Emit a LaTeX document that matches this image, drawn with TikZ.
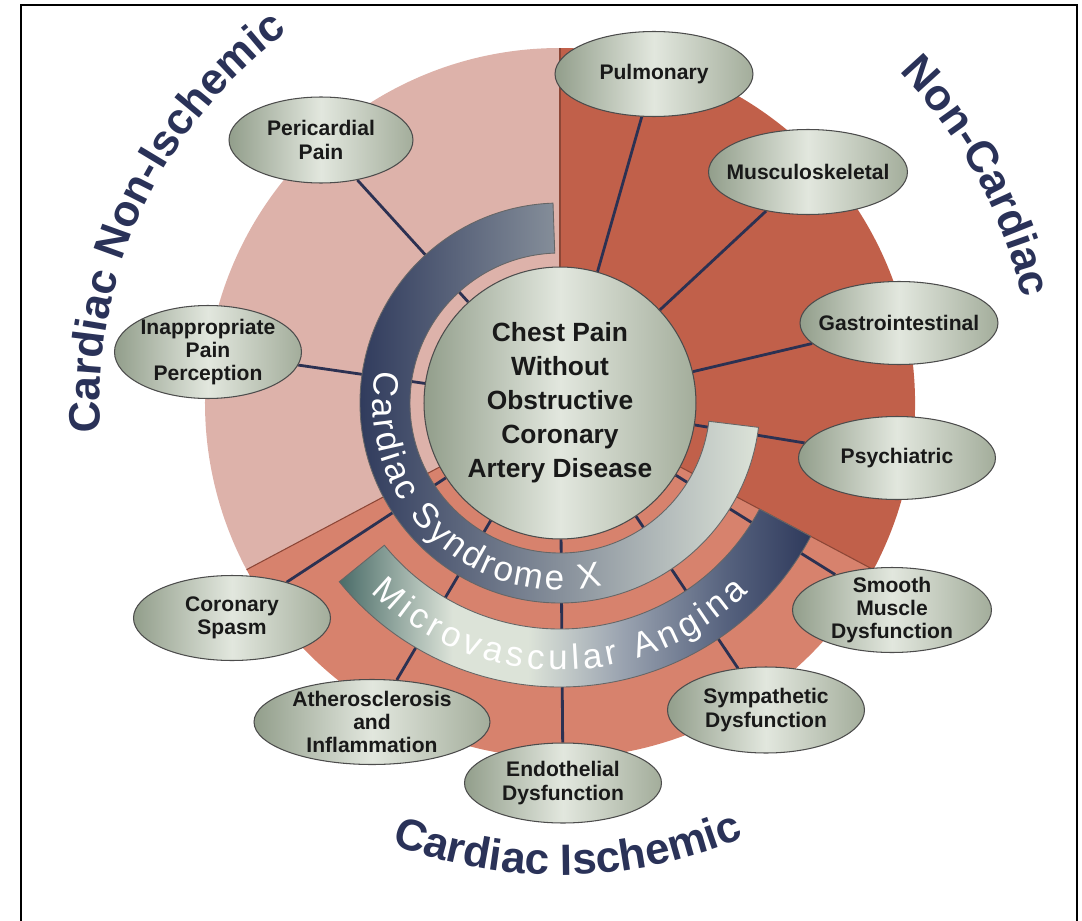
\documentclass[tikz,border=0pt]{standalone}
\usepackage{fontspec}
\setmainfont{Liberation Sans}
\usepackage[copies]{contour}
\usetikzlibrary{shapes.geometric}
\usetikzlibrary{decorations.text}

\contourlength{0.6pt}
\contournumber{16}

\definecolor{paleRose}{HTML}{DDB2AA}
\definecolor{rust}{HTML}{C1604A}
\definecolor{salmon}{HTML}{D7826D}
\definecolor{edgeRed}{HTML}{8C4636}
\definecolor{navy}{HTML}{2A3258}
\definecolor{spokeBlue}{HTML}{2C3152}
\definecolor{sageDark}{HTML}{929E8B}
\definecolor{sageLight}{HTML}{E2E7DE}
\definecolor{sageMid}{HTML}{A3AD9B}
\definecolor{bandDark}{HTML}{2F3A5C}
\definecolor{bandLight}{HTML}{DCE3D8}
\definecolor{bandTeal}{HTML}{4A6C68}
\definecolor{bandGray}{HTML}{9AA3B0}
\definecolor{bandSlate}{HTML}{56627E}
\definecolor{letterEdge}{HTML}{3A3F4A}

\pgfdeclarehorizontalshading{microshade}{100bp}{color(0bp)=(bandTeal); color(25bp)=(bandTeal); color(37bp)=(bandLight); color(45bp)=(bandLight); color(55bp)=(bandGray); color(66bp)=(bandSlate); color(75bp)=(bandDark); color(100bp)=(bandDark)}

\pgfdeclarelayer{sectors}
\pgfdeclarelayer{bands}
\pgfsetlayers{sectors,bands,main}

\newcommand{\bubble}[6]{\node[bubble,minimum width=#4cm,minimum height=#5cm] (#1) at ( #2 , #3 ) {#6};}
\newcommand{\spoke}[1]{\draw[spoke] (hub) -- (#1);}
\newcommand{\sector}[3]{\fill[#1] (0,0) -- (#2:355) arc[start angle=#2, end angle=#3, radius=355] -- cycle;}
\newcommand{\catfont}{\bfseries\fontsize{25}{25}\selectfont}
\newcommand{\bandfont}{\fontsize{20}{20}\selectfont\color{white}\contour{letterEdge}}

\tikzset{
  bubble/.style={ellipse, draw=black!70, line width=0.6pt, inner xsep=-8pt, inner ysep=-4pt,
    align=center, text=black!90, font=\bfseries\fontsize{12}{13.2}\selectfont,
    left color=sageDark, right color=sageMid, middle color=sageLight},
  hubdisc/.style={circle, draw=black!70, line width=0.6pt, minimum size=5.44cm, inner sep=0pt,
    align=center, text=black!90, font=\bfseries\fontsize{15}{19.4}\selectfont,
    left color=sageDark, right color=sageMid, middle color=sageLight},
  spoke/.style={spokeBlue, line width=1.6pt},
  rim/.style={edgeRed, line width=0.6pt},
  band/.style={draw=black!60, line width=0.5pt},
}

\begin{document}
\begin{tikzpicture}[x=0.02cm, y=0.02cm]
    \useasboundingbox (-560,-517) rectangle (522,403);
    % frame
    \draw[line width=1pt] (-539,-530) -- (-539,398) -- (517,398) -- (517,-530);

    % centre
    \node[hubdisc] (hub) at (0,0) {Chest Pain\\Without\\Obstructive\\Coronary\\Artery Disease};

    % non-cardiac bubbles
    \bubble{pulm}{94}{329}{3.96}{1.7}{Pulmonary}
    \bubble{musc}{248}{231}{3.98}{1.7}{Musculoskeletal}
    \bubble{gastro}{339}{80}{3.96}{1.66}{Gastrointestinal}
    \bubble{psych}{337}{-55}{3.94}{1.66}{Psychiatric}
    % ischemic bubbles
    \bubble{smooth}{332}{-207}{3.98}{1.7}{Smooth\\Muscle\\Dysfunction}
    \bubble{symp}{206}{-307}{3.94}{1.72}{Sympathetic\\Dysfunction}
    \bubble{endo}{3}{-380}{3.94}{1.6}{Endothelial\\Dysfunction}
    \bubble{athero}{-188}{-319}{4.72}{1.7}{Atherosclerosis\\and\\Inflammation}
    \bubble{spasm}{-328}{-215}{3.94}{1.7}{Coronary\\Spasm}
    % non-ischemic bubbles
    \bubble{percep}{-352}{51}{3.74}{1.86}{Inappropriate\\Pain\\Perception}
    \bubble{peri}{-239}{263}{3.68}{1.72}{Pericardial\\Pain}

    \begin{pgfonlayer}{sectors}
        % sectors
        \sector{paleRose}{90}{208}
        \sector{salmon}{208}{332}
        \sector{rust}{-28}{90}
        \draw[rim] (0,0) -- (90:355);
        \draw[rim] (0,0) -- (208:355);
        \draw[rim] (0,0) -- (-28:355);
        % spokes
        \spoke{pulm}
        \spoke{musc}
        \spoke{gastro}
        \spoke{psych}
        \spoke{smooth}
        \spoke{symp}
        \spoke{endo}
        \spoke{athero}
        \spoke{spasm}
        \spoke{percep}
        \spoke{peri}
    \end{pgfonlayer}

    \begin{pgfonlayer}{bands}
        % syndrome x band
        \draw[band, left color=bandDark, right color=bandLight]
            (92:200) arc[start angle=92, end angle=353, radius=200]
            -- (353:150) arc[start angle=353, end angle=92, radius=150] -- cycle;
        % microvascular band
        \shadedraw[band, shading=microshade]
            (219:284) arc[start angle=219, end angle=332, radius=284]
            -- (332:226) arc[start angle=332, end angle=219, radius=226] -- cycle;
        \path[decorate, decoration={text along path, text align=fit to path,
            text={|\bandfont|Cardiac Syndrome X}}]
            (170:187) arc[start angle=170, end angle=283, radius=187];
        \path[decorate, decoration={text along path, text align=fit to path,
            text={|\bandfont|Microvascular Angina}}]
            (225:267) arc[start angle=225, end angle=315, radius=267];
    \end{pgfonlayer}

    % group titles
    \path[decorate, decoration={text along path, text align=center, text color=navy,
        text={|\catfont|Cardiac Non-Ischemic}}]
        (188:460) arc[start angle=188, end angle=122, radius=460];
    \path[decorate, decoration={text along path, text align=center, text color=navy,
        text={|\catfont|Non-Cardiac}}]
        (46:474) arc[start angle=46, end angle=11, radius=474];
    \path[decorate, decoration={text along path, text align=center, text color=navy,
        text={|\catfont|Cardiac Ischemic}}]
        (246:472) arc[start angle=246, end angle=296, radius=472];
\end{tikzpicture}
\end{document}
